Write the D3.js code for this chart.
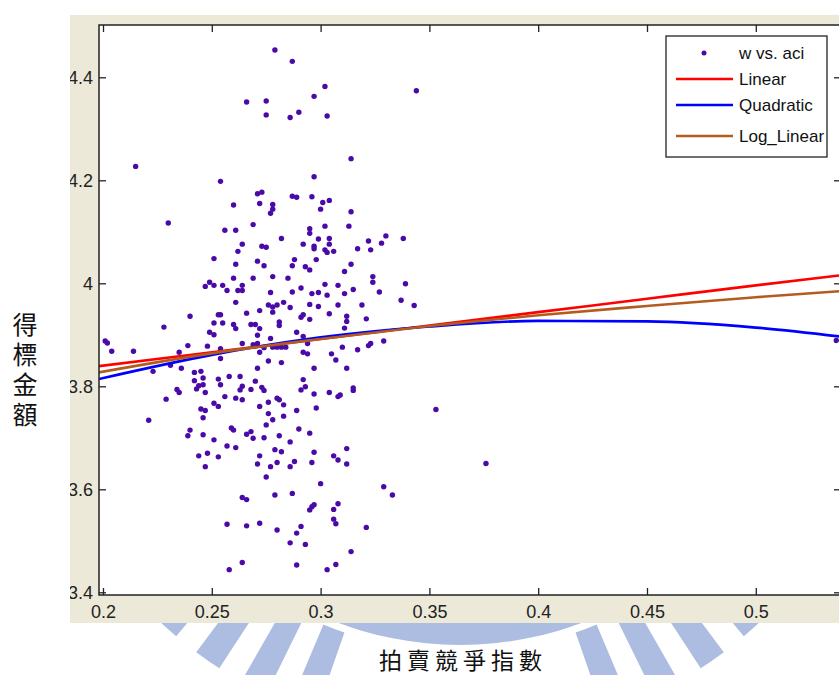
<!DOCTYPE html>
<html>
<head>
<meta charset="UTF-8">
<title>w vs. aci</title>
<style>
    body { margin: 0; background: #fff; }
    svg { display: block; }
    .tick text { font-family: "Liberation Sans", Arial, sans-serif; font-size: 18px; fill: #222; }
    .tick line { stroke: #222; stroke-width: 1.3px; }
    .legend text { font-family: "Liberation Sans", Arial, sans-serif; font-size: 17px; fill: #111; }
    .title { font-family: "Noto Sans CJK TC", "Noto Sans CJK SC", sans-serif; fill: #111; }
</style>
</head>
<body>
<script src="https://d3js.org/d3.v7.min.js"></script>
<script>
// ---- data ----
var xTicks = [0.2, 0.25, 0.3, 0.35, 0.4, 0.45, 0.5];
var xTickLabels = ["0.2", "0.25", "0.3", "0.35", "0.4", "0.45", "0.5"];
var yTicks = [3.4, 3.6, 3.8, 4, 4.2, 4.4];
var yTickLabels = ["3.4", "3.6", "3.8", "4", "4.2", "4.4"];

var seriesNames = ["w vs. aci", "Linear", "Quadratic", "Log_Linear"];

// fitted curves sampled along aci
var fitX      = [0.198, 0.25, 0.3, 0.35, 0.4, 0.45, 0.5, 0.54];
var linearY   = [3.839, 3.866, 3.892, 3.918, 3.944, 3.970, 3.996, 4.016];
var quadY     = [3.814, 3.861, 3.895, 3.916, 3.927, 3.926, 3.914, 3.896];
var logLinY   = [3.827, 3.864, 3.892, 3.917, 3.938, 3.956, 3.973, 3.985];

// scatter: [aci, w]
var wVsAci = [
    [0.279,4.453],[0.287,4.431],[0.302,4.382],[0.297,4.363],[0.344,4.374],[0.266,4.352],[0.275,4.354],[0.275,4.327],
    [0.286,4.322],[0.290,4.332],[0.303,4.325],[0.314,4.242],[0.215,4.227],[0.254,4.198],[0.297,4.207],[0.271,4.174],
    [0.273,4.177],[0.287,4.169],[0.289,4.167],[0.296,4.168],[0.301,4.157],[0.304,4.161],[0.260,4.152],[0.272,4.155],
    [0.278,4.153],[0.278,4.144],[0.277,4.136],[0.300,4.144],[0.314,4.139],[0.230,4.117],[0.269,4.114],[0.256,4.103],
    [0.261,4.103],[0.295,4.106],[0.295,4.097],[0.302,4.111],[0.313,4.111],[0.282,4.087],[0.299,4.086],[0.304,4.087],
    [0.304,4.076],[0.264,4.076],[0.292,4.076],[0.297,4.072],[0.297,4.067],[0.273,4.072],[0.275,4.070],[0.262,4.062],
    [0.302,4.065],[0.303,4.060],[0.306,4.062],[0.317,4.067],[0.322,4.082],[0.323,4.065],[0.328,4.078],[0.330,4.092],
    [0.338,4.087],[0.251,4.048],[0.288,4.046],[0.287,4.034],[0.298,4.046],[0.271,4.043],[0.261,4.037],[0.274,4.034],
    [0.293,4.032],[0.295,4.026],[0.314,4.037],[0.311,4.023],[0.260,4.010],[0.269,4.010],[0.278,4.013],[0.285,4.010],
    [0.324,4.013],[0.324,4.002],[0.249,4.002],[0.247,3.994],[0.251,3.996],[0.255,3.996],[0.257,3.986],[0.264,3.996],
    [0.264,3.986],[0.262,3.986],[0.291,3.991],[0.287,3.983],[0.277,3.982],[0.302,3.998],[0.308,3.996],[0.299,3.982],
    [0.296,3.980],[0.303,3.977],[0.311,3.980],[0.315,3.988],[0.327,3.983],[0.339,3.999],[0.337,3.967],[0.343,3.957],
    [0.261,3.963],[0.276,3.958],[0.278,3.954],[0.280,3.958],[0.283,3.963],[0.286,3.953],[0.295,3.959],[0.299,3.955],
    [0.308,3.958],[0.319,3.958],[0.240,3.936],[0.253,3.939],[0.254,3.939],[0.251,3.923],[0.255,3.923],[0.266,3.942],
    [0.272,3.947],[0.278,3.944],[0.260,3.920],[0.261,3.912],[0.268,3.920],[0.270,3.920],[0.272,3.912],[0.281,3.925],
    [0.281,3.918],[0.271,3.899],[0.291,3.934],[0.292,3.939],[0.295,3.930],[0.304,3.941],[0.312,3.936],[0.312,3.926],
    [0.321,3.931],[0.289,3.905],[0.292,3.897],[0.311,3.913],[0.249,3.905],[0.251,3.900],[0.254,3.873],[0.239,3.879],
    [0.264,3.883],[0.269,3.881],[0.271,3.883],[0.272,3.866],[0.274,3.875],[0.277,3.893],[0.278,3.876],[0.280,3.876],
    [0.282,3.876],[0.284,3.876],[0.292,3.866],[0.294,3.863],[0.294,3.883],[0.305,3.863],[0.307,3.851],[0.310,3.876],
    [0.317,3.871],[0.322,3.879],[0.323,3.883],[0.329,3.888],[0.254,3.854],[0.276,3.849],[0.282,3.846],[0.271,3.835],
    [0.297,3.835],[0.312,3.835],[0.242,3.827],[0.245,3.829],[0.246,3.816],[0.242,3.811],[0.244,3.801],[0.246,3.803],
    [0.243,3.795],[0.253,3.814],[0.258,3.819],[0.263,3.819],[0.254,3.803],[0.264,3.800],[0.263,3.793],[0.268,3.794],
    [0.270,3.810],[0.273,3.798],[0.274,3.792],[0.235,3.788],[0.247,3.788],[0.292,3.813],[0.291,3.793],[0.293,3.799],
    [0.297,3.785],[0.304,3.788],[0.308,3.780],[0.309,3.783],[0.315,3.797],[0.315,3.792],[0.245,3.756],[0.246,3.739],
    [0.247,3.753],[0.251,3.767],[0.253,3.761],[0.256,3.780],[0.261,3.777],[0.264,3.774],[0.272,3.761],[0.276,3.769],
    [0.280,3.777],[0.281,3.774],[0.283,3.764],[0.276,3.747],[0.283,3.742],[0.289,3.753],[0.298,3.758],[0.275,3.725],
    [0.278,3.735],[0.240,3.715],[0.239,3.704],[0.246,3.706],[0.251,3.696],[0.259,3.719],[0.260,3.715],[0.266,3.707],
    [0.268,3.712],[0.269,3.699],[0.274,3.700],[0.281,3.704],[0.290,3.717],[0.295,3.709],[0.286,3.692],[0.257,3.684],
    [0.261,3.681],[0.279,3.677],[0.282,3.673],[0.244,3.665],[0.248,3.670],[0.253,3.663],[0.272,3.665],[0.247,3.644],
    [0.271,3.649],[0.277,3.644],[0.280,3.652],[0.286,3.644],[0.288,3.654],[0.296,3.652],[0.297,3.672],[0.306,3.665],
    [0.308,3.657],[0.312,3.679],[0.312,3.649],[0.275,3.624],[0.300,3.611],[0.329,3.605],[0.333,3.589],[0.264,3.584],
    [0.266,3.580],[0.279,3.589],[0.287,3.592],[0.295,3.560],[0.296,3.566],[0.297,3.570],[0.306,3.561],[0.308,3.572],
    [0.306,3.542],[0.307,3.533],[0.321,3.526],[0.257,3.532],[0.266,3.529],[0.272,3.534],[0.280,3.521],[0.289,3.515],
    [0.291,3.528],[0.286,3.496],[0.293,3.493],[0.314,3.479],[0.264,3.458],[0.258,3.444],[0.289,3.453],[0.303,3.444],
    [0.307,3.454],[0.228,3.915],[0.201,3.888],[0.202,3.884],[0.204,3.868],[0.214,3.868],[0.235,3.866],[0.223,3.829],
    [0.231,3.841],[0.236,3.835],[0.234,3.794],[0.229,3.775],[0.221,3.734],[0.248,3.878],[0.353,3.755],[0.376,3.650],
    [0.537,3.889]
];

// ---- layout ----
var width = 839, height = 675;
var box = {left: 99, right: 841, top: 25, bottom: 595};

var svg = d3.select("body")
    .append("svg")
    .attr("width", width)
    .attr("height", height);

var defs = svg.append("defs");
defs.append("clipPath").attr("id", "plot")
    .append("rect")
    .attr("x", box.left).attr("y", box.top)
    .attr("width", box.right - box.left).attr("height", box.bottom - box.top);
defs.append("clipPath").attr("id", "fig")
    .append("rect")
    .attr("x", 70).attr("y", 15)
    .attr("width", width - 70).attr("height", 608);
defs.append("clipPath").attr("id", "below")
    .append("rect")
    .attr("x", 0).attr("y", 623)
    .attr("width", width).attr("height", height - 623);

// faint watermark, only its lower edge shows under the figure
var wm = svg.append("g")
    .attr("clip-path", "url(#below)")
    .append("g")
    .attr("transform", "translate(460,300)")
    .attr("fill", "#adbde2");
wm.append("path")
    .attr("d", d3.arc()({innerRadius: 323, outerRadius: 345, startAngle: 0, endAngle: 2 * Math.PI}));
[-42, -35, -28, -21, 21, 28, 35, 42].forEach(function(a) {
    var r = Math.PI + a * Math.PI / 180;
    wm.append("path")
        .attr("d", d3.arc()({innerRadius: 352, outerRadius: 440, startAngle: r - 0.032, endAngle: r + 0.032}));
});

// figure background
svg.append("rect")
    .attr("x", 70).attr("y", 15)
    .attr("width", width - 70).attr("height", 608)
    .attr("fill", "#ece9d8");

// axes background
svg.append("rect")
    .attr("x", box.left).attr("y", box.top)
    .attr("width", box.right - box.left).attr("height", box.bottom - box.top)
    .attr("fill", "#fff");

// scales
var x = d3.scaleLinear().domain([0.2, 0.55]).range([103, 103 + 0.35 * 2176]);
var y = d3.scaleLinear().domain([3.4, 4.4]).range([592.3, 77.3]);

// fitted lines
var line = d3.line()
    .x(function(d) { return x(d[0]); })
    .y(function(d) { return y(d[1]); })
    .curve(d3.curveMonotoneX);

var plot = svg.append("g").attr("clip-path", "url(#plot)");

// points
plot.append("g")
    .selectAll("circle")
    .data(wVsAci)
    .enter().append("circle")
    .attr("cx", function(d) { return x(d[0]); })
    .attr("cy", function(d) { return y(d[1]); })
    .attr("r", 2.7)
    .attr("fill", "#4a0aa8");

var fits = [
    {ys: linearY, color: "#ff0000"},
    {ys: quadY, color: "#0000ff"},
    {ys: logLinY, color: "#b35c1e"}
];
fits.forEach(function(f) {
    plot.append("path")
        .attr("d", line(fitX.map(function(v, i) { return [v, f.ys[i]]; })))
        .attr("fill", "none")
        .attr("stroke", f.color)
        .attr("stroke-width", 2.6);
});

// axes (ticks point inward like MATLAB)
var xAxis = d3.axisBottom(x).tickValues(xTicks)
    .tickFormat(function(d, i) { return xTickLabels[i]; })
    .tickSizeInner(-7).tickSizeOuter(0).tickPadding(10);
svg.append("g").attr("transform", "translate(0," + box.bottom + ")").call(xAxis)
    .call(function(g) { g.select(".domain").remove(); });

svg.append("g").attr("transform", "translate(0," + box.top + ")")
    .call(d3.axisTop(x).tickValues(xTicks).tickFormat("").tickSizeInner(-7).tickSizeOuter(0))
    .call(function(g) { g.select(".domain").remove(); });

var yAxis = d3.axisLeft(y).tickValues(yTicks)
    .tickFormat(function(d, i) { return yTickLabels[i]; })
    .tickSizeInner(-7).tickSizeOuter(0).tickPadding(6);
svg.append("g").attr("clip-path", "url(#fig)")
    .append("g").attr("transform", "translate(" + box.left + ",0)").call(yAxis)
    .call(function(g) { g.select(".domain").remove(); });

svg.append("g").attr("transform", "translate(" + box.right + ",0)")
    .call(d3.axisRight(y).tickValues(yTicks).tickFormat("").tickSizeInner(-7).tickSizeOuter(0))
    .call(function(g) { g.select(".domain").remove(); });

// axes box
svg.append("rect")
    .attr("x", box.left).attr("y", box.top)
    .attr("width", box.right - box.left).attr("height", box.bottom - box.top)
    .attr("fill", "none")
    .attr("stroke", "#222")
    .attr("stroke-width", 1.5);

// legend
var legend = svg.append("g").attr("class", "legend");
legend.append("rect")
    .attr("x", 666).attr("y", 36)
    .attr("width", 161).attr("height", 121)
    .attr("fill", "#fff");
var rowY = [53, 79, 105, 136];
var rowColor = ["#4a0aa8", "#ff0000", "#0000ff", "#b35c1e"];
seriesNames.forEach(function(name, i) {
    if (i === 0) {
        legend.append("circle").attr("cx", 704).attr("cy", rowY[i]).attr("r", 2.5).attr("fill", rowColor[i]);
    } else {
        legend.append("line")
            .attr("x1", 676).attr("x2", 733)
            .attr("y1", rowY[i]).attr("y2", rowY[i])
            .attr("stroke", rowColor[i]).attr("stroke-width", 2.6);
    }
    legend.append("text")
        .attr("x", 739).attr("y", rowY[i])
        .attr("dominant-baseline", "central")
        .text(name);
});
legend.append("rect")
    .attr("x", 666).attr("y", 36)
    .attr("width", 161).attr("height", 121)
    .attr("fill", "none")
    .attr("stroke", "#222")
    .attr("stroke-width", 1.3);

// axis titles
svg.append("text")
    .attr("class", "title")
    .attr("x", 25).attr("y", 372)
    .attr("writing-mode", "tb")
    .attr("text-anchor", "middle")
    .attr("font-size", 25)
    .attr("letter-spacing", 5)
    .text("得標金額");

svg.append("text")
    .attr("class", "title")
    .attr("x", 463).attr("y", 659)
    .attr("text-anchor", "middle")
    .attr("dominant-baseline", "central")
    .attr("font-size", 23)
    .attr("letter-spacing", 5)
    .text("拍賣競爭指數");
</script>
</body>
</html>
